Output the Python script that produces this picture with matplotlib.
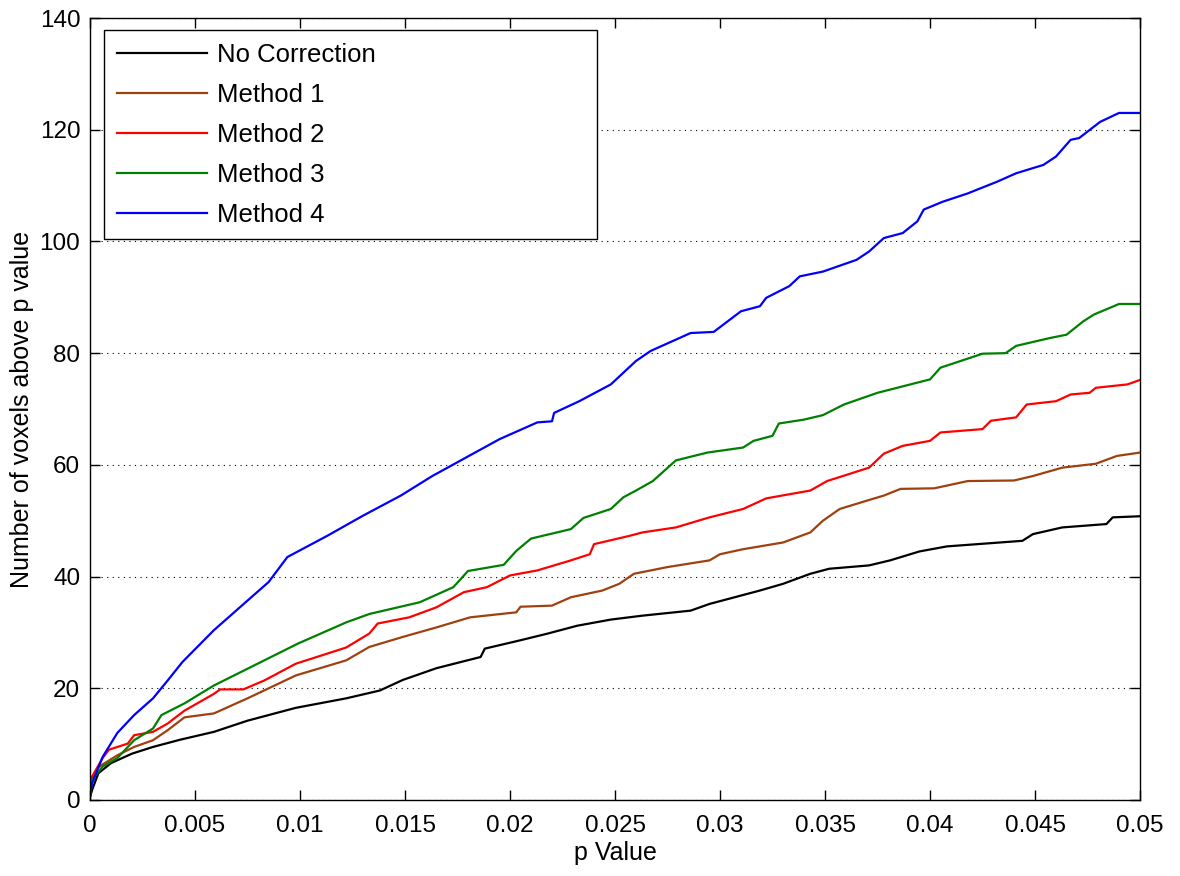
import matplotlib
matplotlib.use('Agg')
import matplotlib.pyplot as plt

plt.rcParams['font.family'] = ['Liberation Sans', 'DejaVu Sans']

# readings (p value, voxel count)
p_nc = [0, 0.0001, 0.0004, 0.001, 0.002, 0.003, 0.0043, 0.0059, 0.0075, 0.0098,
        0.0122, 0.0138, 0.0149, 0.0165, 0.0186, 0.0188, 0.0205, 0.0218, 0.0232,
        0.0248, 0.0263, 0.0286, 0.0295, 0.0319, 0.033, 0.0343, 0.0352, 0.0371,
        0.0381, 0.0395, 0.0408, 0.0444, 0.0449, 0.0463, 0.0484, 0.0487, 0.05]
n_nc = [0.5, 1.8, 4.8, 6.6, 8.3, 9.5, 10.8, 12.2, 14.2, 16.5,
        18.2, 19.6, 21.5, 23.6, 25.6, 27.1, 28.6, 29.8, 31.2,
        32.3, 33.0, 33.9, 35.1, 37.5, 38.7, 40.5, 41.4, 42.0,
        42.9, 44.5, 45.4, 46.4, 47.6, 48.8, 49.4, 50.6, 50.8]

p_m1 = [0, 0.0001, 0.0004, 0.0013, 0.0021, 0.003, 0.0037, 0.0045, 0.0059, 0.0075,
        0.0098, 0.0122, 0.0133, 0.0149, 0.0165, 0.0181, 0.0203, 0.0205, 0.022,
        0.0229, 0.0244, 0.0252, 0.0259, 0.0275, 0.0295, 0.03, 0.0311, 0.033,
        0.0343, 0.0349, 0.0357, 0.037, 0.0378, 0.0386, 0.0402, 0.0418, 0.044,
        0.0449, 0.0463, 0.0479, 0.0489, 0.05]
n_m1 = [0.8, 3.6, 5.9, 8.0, 9.5, 10.7, 12.5, 14.8, 15.5, 18.2,
        22.3, 25.0, 27.4, 29.2, 30.9, 32.7, 33.6, 34.6, 34.8,
        36.3, 37.5, 38.7, 40.5, 41.7, 42.9, 44.0, 44.9, 46.1,
        47.9, 50.0, 52.1, 53.6, 54.5, 55.7, 55.8, 57.1, 57.2,
        58.0, 59.5, 60.2, 61.6, 62.2]

p_m2 = [0, 0.0001, 0.0006, 0.0009, 0.0018, 0.0021, 0.003, 0.0037, 0.0045, 0.0059,
        0.0062, 0.0073, 0.0083, 0.0098, 0.0122, 0.0133, 0.0137, 0.0152, 0.0165,
        0.0178, 0.0189, 0.02, 0.0213, 0.0229, 0.0238, 0.024, 0.0257, 0.0263,
        0.0279, 0.0295, 0.0311, 0.0322, 0.0343, 0.0351, 0.0371, 0.0378, 0.0387,
        0.04, 0.0405, 0.0425, 0.0429, 0.0441, 0.0446, 0.046, 0.0467, 0.0476,
        0.0479, 0.0494, 0.05]
n_m2 = [1.0, 4.2, 7.5, 9.0, 10.1, 11.6, 12.2, 13.7, 16.0, 19.0,
        19.8, 19.8, 21.4, 24.4, 27.3, 29.8, 31.6, 32.7, 34.5,
        37.2, 38.1, 40.2, 41.1, 42.9, 44.0, 45.8, 47.3, 47.9,
        48.8, 50.6, 52.1, 54.0, 55.4, 57.1, 59.5, 62.0, 63.4,
        64.3, 65.8, 66.4, 67.9, 68.5, 70.8, 71.4, 72.6, 72.9,
        73.8, 74.4, 75.2]

p_m3 = [0, 0.0001, 0.0006, 0.0013, 0.0018, 0.0021, 0.003, 0.0034, 0.0045, 0.0059,
        0.0075, 0.0099, 0.0122, 0.0133, 0.0157, 0.0173, 0.018, 0.0197, 0.0203,
        0.021, 0.0229, 0.0235, 0.0248, 0.0254, 0.026, 0.0268, 0.0279, 0.0294,
        0.0311, 0.0316, 0.0325, 0.0328, 0.034, 0.0349, 0.0359, 0.0375, 0.04,
        0.0405, 0.0425, 0.0436, 0.0441, 0.0457, 0.0465, 0.0473, 0.0478, 0.049, 0.05]
n_m3 = [1.0, 3.6, 6.0, 7.5, 9.5, 10.7, 12.8, 15.2, 17.3, 20.5,
        23.5, 28.0, 31.8, 33.3, 35.4, 38.1, 41.0, 42.1, 44.6,
        46.8, 48.5, 50.5, 52.1, 54.2, 55.4, 57.1, 60.8, 62.2,
        63.1, 64.3, 65.2, 67.4, 68.1, 68.9, 70.8, 72.9, 75.3,
        77.4, 79.9, 80.0, 81.3, 82.7, 83.3, 85.7, 86.9, 88.8, 88.8]

p_m4 = [0, 0.0001, 0.0006, 0.0013, 0.0021, 0.003, 0.0037, 0.0044, 0.0059, 0.0075,
        0.0085, 0.0094, 0.0113, 0.013, 0.0148, 0.0163, 0.0179, 0.0195, 0.0213,
        0.022, 0.0221, 0.0233, 0.0248, 0.026, 0.0267, 0.0286, 0.0297, 0.031,
        0.0319, 0.0322, 0.0333, 0.0338, 0.0349, 0.0365, 0.0371, 0.0378, 0.0387,
        0.0394, 0.0397, 0.0406, 0.0418, 0.0432, 0.0441, 0.0454, 0.046, 0.0467,
        0.0471, 0.0481, 0.049, 0.05]
n_m4 = [1.0, 3.0, 7.7, 12.0, 15.2, 18.2, 21.4, 24.7, 30.4, 35.7,
        39.0, 43.5, 47.3, 50.9, 54.5, 58.0, 61.3, 64.6, 67.6,
        67.8, 69.3, 71.4, 74.4, 78.6, 80.4, 83.6, 83.8, 87.5,
        88.4, 89.9, 92.0, 93.75, 94.6, 96.7, 98.2, 100.6, 101.5,
        103.6, 105.7, 107.1, 108.6, 110.7, 112.2, 113.7, 115.2, 118.2,
        118.5, 121.4, 123.0, 123.0]

labels = ['No Correction', 'Method 1', 'Method 2', 'Method 3', 'Method 4']
colors = ['black', '#A0400F', '#FF0000', '#008000', '#0000FF']

fig = plt.figure(figsize=(11.8, 8.76), dpi=100)
ax = fig.add_axes([90 / 1180, 76 / 876, 1050 / 1180, 782 / 876])

series = [(p_nc, n_nc), (p_m1, n_m1), (p_m2, n_m2), (p_m3, n_m3), (p_m4, n_m4)]
for (p, n), lab, col in zip(series, labels, colors):
    ax.plot(p, n, color=col, lw=1.6, label=lab)

ax.set_xlim(0, 0.05)
ax.set_ylim(0, 140)
ax.set_xticks([i * 0.005 for i in range(11)])
ax.set_xticklabels(['0', '0.005', '0.01', '0.015', '0.02', '0.025', '0.03',
                    '0.035', '0.04', '0.045', '0.05'])
ax.set_yticks(range(0, 141, 20))
ax.tick_params(direction='in', length=7, width=1, top=True, right=True,
               labelsize=17.5)
ax.tick_params(axis='x', pad=11)
ax.tick_params(axis='y', pad=7)
ax.grid(axis='y', linestyle=(0, (1, 4)), color='black', lw=0.8)
for s in ax.spines.values():
    s.set_linewidth(1)

ax.set_xlabel('p Value', fontsize=18, labelpad=3)
ax.set_ylabel('Number of voxels above p value', fontsize=18, labelpad=4)

leg = ax.legend(loc='upper left', bbox_to_anchor=(14 / 1050, 0.0, 493 / 1050, 770 / 782),
                mode='expand', fontsize=18.5, handlelength=3.5, handletextpad=0.4,
                labelspacing=0.62, borderpad=0.5, borderaxespad=0, fancybox=False,
                framealpha=1, edgecolor='black')
leg.get_frame().set_linewidth(1)

fig.savefig('out.png', dpi=100)
